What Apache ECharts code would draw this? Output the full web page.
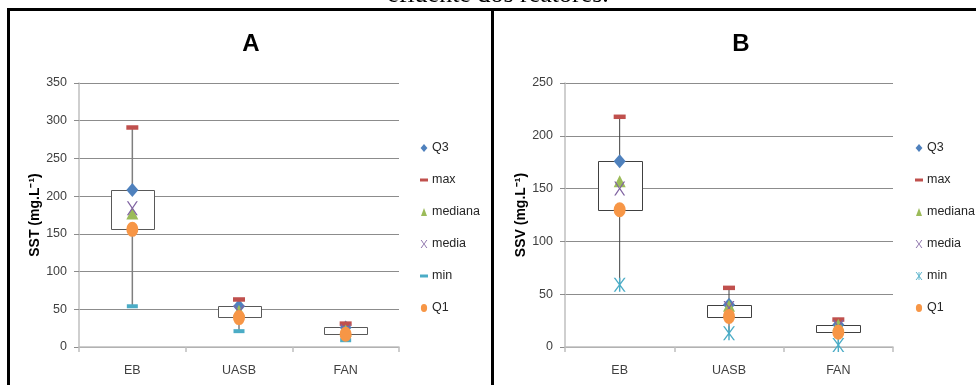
<!DOCTYPE html>
<html>
<head>
<meta charset="utf-8">
<script src="https://cdn.jsdelivr.net/npm/echarts@6/dist/echarts.min.js"></script>
<style>
html,body{margin:0;padding:0;background:#fff;}
#c{width:976px;height:385px;}
</style>
</head>
<body>
<div id="c"></div>
<script>
// ---- data ----
const categories = ['EB', 'UASB', 'FAN'];
const seriesNames = ['Q3', 'max', 'mediana', 'media', 'min', 'Q1'];

// Panel A : SST (mg.L-1)
const aQ3      = [208, 54, 26];
const aMax     = [291, 63, 31];
const aMediana = [177, 48, 22];
const aMedia   = [184, 46, 21];
const aMin     = [54, 21, 9];
const aQ1      = [156, 39, 17];
const aTicks   = [0, 50, 100, 150, 200, 250, 300, 350];

// Panel B : SSV (mg.L-1)
const bQ3      = [176, 40, 21];
const bMax     = [218, 56, 26];
const bMediana = [157, 39, 21];
const bMedia   = [150, 37, 19];
const bMin     = [59, 13, 2];
const bQ1      = [130, 29, 14];
const bTicks   = [0, 50, 100, 150, 200, 250];

// ---- styles ----
const FONT = "'Liberation Sans', Arial, sans-serif";
const FS = 12.5;
const COL = {Q3:'#4F81BD', max:'#C0504D', mediana:'#9BBB59', media:'#8064A2', min:'#4BACC6', Q1:'#F79646'};
const SYM = {
  diamond: 'path://M3,0L6,3.5L3,7L0,3.5Z',
  dash: 'path://M0,0L8,0L8,3L0,3Z',
  tri: 'path://M3,0L6,8L0,8Z',
  cross: 'path://M0,0L1.4,0L5,5.2L8.6,0L10,0L5.7,6L10,12L8.6,12L5,6.8L1.4,12L0,12L4.3,6Z',
  star: 'path://M0,0L1.4,0L5,5.2L8.6,0L10,0L5.7,6L10,12L8.6,12L5,6.8L1.4,12L0,12L4.3,6Z M4.4,0L5.6,0L5.6,12L4.4,12Z',
  circle: 'path://M3.5,0A3.5,4.5,0,1,1,3.49,0Z'
};

const chart = echarts.init(document.getElementById('c'), null, {renderer:'canvas'});

function boxSeries(idx, mins, q1s, q3s, maxs, whiskColor, whiskWidth, boxColor) {
  return {
    type: 'custom', xAxisIndex: idx, yAxisIndex: idx, z: 1, silent: true,
    data: categories.map((c, i) => [i, mins[i], q1s[i], q3s[i], maxs[i]]),
    encode: {x: 0, y: [1, 2, 3, 4]},
    renderItem: function (params, api) {
      const x = api.value(0);
      const pMin = api.coord([x, api.value(1)]);
      const pQ1 = api.coord([x, api.value(2)]);
      const pQ3 = api.coord([x, api.value(3)]);
      const pMax = api.coord([x, api.value(4)]);
      const w = api.size([1, 0])[0] * 0.4;
      return {
        type: 'group',
        children: [
          {type: 'line', shape: {x1: pMin[0], y1: pMin[1], x2: pMax[0], y2: pMax[1]},
           style: {stroke: whiskColor, lineWidth: whiskWidth}},
          {type: 'rect', shape: {x: Math.round(pQ3[0] - w / 2) + 0.5, y: Math.round(pQ3[1]) + 0.5, width: Math.round(w), height: Math.round(pQ1[1] - pQ3[1])},
           style: {fill: '#fff', stroke: boxColor, lineWidth: 1}}
        ]
      };
    }
  };
}

function scatter(idx, name, data, symbol, size) {
  return {
    type: 'scatter', name: name, xAxisIndex: idx, yAxisIndex: idx, z: 3,
    symbol: symbol, symbolSize: size, data: data,
    itemStyle: {color: COL[name], opacity: 1},
    emphasis: {disabled: true}
  };
}

function xAxis(idx) {
  return {
    type: 'category', gridIndex: idx, data: categories, boundaryGap: true,
    axisLine: {lineStyle: {color: '#BFBFBF', width: 1.5}},
    axisTick: {show: true, length: 5, lineStyle: {color: '#BFBFBF', width: 1.5}},
    axisLabel: {color: '#404040', fontFamily: FONT, fontSize: FS, margin: 17}
  };
}
function yAxis(idx, ticks, name) {
  return {
    type: 'value', gridIndex: idx, min: ticks[0], max: ticks[ticks.length - 1],
    interval: ticks[1] - ticks[0],
    name: name, nameLocation: 'middle', nameRotate: 90, nameGap: 34,
    nameTextStyle: {color: '#000', fontFamily: "'Liberation Sans', sans-serif", fontWeight: 'bold', fontSize: 14},
    axisLine: {show: true, lineStyle: {color: '#BFBFBF', width: 1.5}},
    axisTick: {show: true, length: 5, lineStyle: {color: '#8C8C8C'}},
    axisLabel: {color: '#404040', fontFamily: FONT, fontSize: FS, margin: 12},
    splitLine: {show: true, lineStyle: {color: '#8C8C8C', width: 1}}
  };
}
function legend(left, minIcon) {
  const icons = {Q3: SYM.diamond, max: SYM.dash, mediana: SYM.tri, media: SYM.cross, min: minIcon, Q1: SYM.circle};
  return {
    orient: 'vertical', left: left, top: 140, padding: 0, itemWidth: 8, itemHeight: 8, itemGap: 16,
    selectedMode: false,
    data: seriesNames.map(n => ({name: n, icon: icons[n]})),
    textStyle: {color: '#262626', fontFamily: FONT, fontSize: FS, lineHeight: 16, padding: [0, 0, 0, -1]}
  };
}

const option = {
  animation: false,
  backgroundColor: '#fff',
  grid: [
    {left: 79, top: 83, width: 320, height: 264, outerBoundsMode: 'none'},
    {left: 565, top: 83, width: 328, height: 264, outerBoundsMode: 'none'}
  ],
  xAxis: [xAxis(0), xAxis(1)],
  yAxis: [yAxis(0, aTicks, 'SST (mg.L\u207B\u00B9)'), yAxis(1, bTicks, 'SSV (mg.L\u207B\u00B9)')],
  legend: [legend(420, SYM.dash), legend(915, SYM.star)],
  graphic: [
    {type: 'text', x: 498, y: -5, silent: true,
     style: {text: 'efluente dos reatores.', fill: '#000', font: "26px 'Liberation Serif', serif", align: 'center', verticalAlign: 'middle'}},
    {type: 'text', x: 251, y: 44, silent: true,
     style: {text: 'A', fill: '#000', font: "bold 24px 'Liberation Sans', sans-serif", align: 'center', verticalAlign: 'middle'}},
    {type: 'text', x: 741, y: 44, silent: true,
     style: {text: 'B', fill: '#000', font: "bold 24px 'Liberation Sans', sans-serif", align: 'center', verticalAlign: 'middle'}},
    {type: 'line', silent: true, shape: {x1: 7, y1: 9.5, x2: 976, y2: 9.5}, style: {stroke: '#000', lineWidth: 3}},
    {type: 'line', silent: true, shape: {x1: 8.5, y1: 8, x2: 8.5, y2: 385}, style: {stroke: '#000', lineWidth: 3}},
    {type: 'line', silent: true, shape: {x1: 492.5, y1: 8, x2: 492.5, y2: 385}, style: {stroke: '#000', lineWidth: 3}}
  ],
  series: [
    boxSeries(0, aMin, aQ1, aQ3, aMax, '#7F7F7F', 1.5, '#595959'),
    scatter(0, 'Q3', aQ3, SYM.diamond, [12, 14]),
    scatter(0, 'max', aMax, SYM.dash, [12, 4.5]),
    scatter(0, 'mediana', aMediana, SYM.tri, [12, 12]),
    scatter(0, 'media', aMedia, SYM.cross, [11, 14]),
    scatter(0, 'min', aMin, SYM.dash, [11, 4]),
    scatter(0, 'Q1', aQ1, SYM.circle, [12, 15]),
    boxSeries(1, bMin, bQ1, bQ3, bMax, '#404040', 1, '#404040'),
    scatter(1, 'Q3', bQ3, SYM.diamond, [12, 14]),
    scatter(1, 'max', bMax, SYM.dash, [12, 4.5]),
    scatter(1, 'mediana', bMediana, SYM.tri, [12, 12]),
    scatter(1, 'media', bMedia, SYM.cross, [11, 14]),
    scatter(1, 'min', bMin, SYM.star, [12, 14]),
    scatter(1, 'Q1', bQ1, SYM.circle, [12, 15])
  ]
};
chart.setOption(option);
</script>
</body>
</html>
